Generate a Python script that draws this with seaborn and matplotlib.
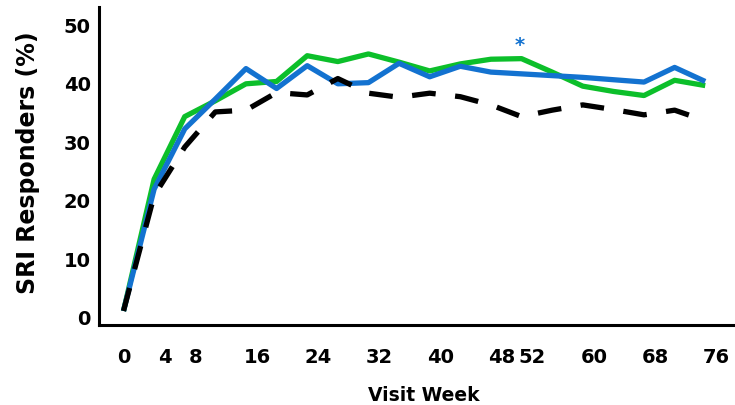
import pandas as pd
import seaborn as sns
import matplotlib.pyplot as plt
from matplotlib.transforms import ScaledTranslation

# Visit weeks and SRI responder rates (%)
weeks = [0, 4, 8, 12, 16, 20, 24, 28, 32, 36, 40, 44, 48, 52, 56, 60, 64, 68, 72, 76]
arm_green = [1.0, 23.5, 34.2, 36.9, 39.8, 40.2, 44.6, 43.6, 44.9, 43.5, 42.0, 43.2, 44.0, 44.1,
             41.8, 39.4, 38.5, 37.8, 40.4, 39.5]
arm_blue = [1.0, 21.8, 32.1, 37.2, 42.4, 39.0, 42.9, 39.8, 40.0, 43.3, 41.0, 42.8, 41.8, 41.5,
            41.2, 40.9, 40.5, 40.1, 42.6, 40.2]
placebo = [1.0, 20.7, 29.0, 35.0, 35.3, 38.3, 37.9, 40.7, 38.2, 37.5, 38.2, 37.6, 36.2, 34.2,
           35.3, 36.2, 35.4, 34.5, 35.3, 33.5]

arms = ["Arm A", "Arm B", "Placebo"]
x_ticks = [0, 4, 8, 16, 24, 32, 40, 48, 52, 60, 68, 76]
y_ticks = [0, 10, 20, 30, 40, 50]
star_week = 52

df = pd.DataFrame({
    "Week": weeks * 3,
    "Responders": arm_green + arm_blue + placebo,
    "Arm": [a for a in arms for _ in weeks],
})

sns.set_theme(style="white")
plt.rcParams["font.family"] = ["DejaVu Sans"]
plt.rcParams["lines.solid_capstyle"] = "butt"

colors = {"Arm A": "#0CBF2A", "Arm B": "#1372D0", "Placebo": "#000000"}
dashes = {"Arm A": "", "Arm B": "", "Placebo": (4.5, 3.7)}

fig, ax = plt.subplots(figsize=(7.35, 4.06), dpi=100)
fig.subplots_adjust(left=0.1347, right=0.997, bottom=0.197, top=0.980)

sns.lineplot(data=df, x="Week", y="Responders", hue="Arm", style="Arm",
             hue_order=arms, style_order=arms, palette=colors, dashes=dashes,
             linewidth=3.8, legend=False, ax=ax)

# significance marker at week 52
ax.text(star_week - 0.3, 45.6, "*", color="#1372D0", fontsize=14, fontweight="bold",
        ha="center", va="baseline")

ax.set_xlim(-3.2, 79.6)
ax.set_ylim(-1.4, 52.9)
ax.set_xticks(x_ticks)
ax.set_xticklabels([str(w) for w in x_ticks], fontsize=14, fontweight="bold")
ax.set_yticks(y_ticks)
ax.set_yticklabels([str(v) for v in y_ticks], fontsize=14, fontweight="bold")
ax.tick_params(axis="x", length=0, pad=16, colors="black")
ax.tick_params(axis="y", length=0, pad=6, colors="black")

# labels in the source sit a little right of their weeks
shift = ScaledTranslation(0.11, 0, fig.dpi_scale_trans)
for lbl, w in zip(ax.get_xticklabels(), x_ticks):
    if w > 0:
        lbl.set_transform(lbl.get_transform() + shift)

ax.set_xlabel("Visit Week", fontsize=13.5, fontweight="bold", color="black")
ax.set_ylabel("SRI Responders (%)", fontsize=17, fontweight="bold", color="black")
ax.xaxis.set_label_coords(0.513, -0.189)
ax.yaxis.set_label_coords(-0.093, 0.513)

sns.despine(ax=ax)
for side in ["left", "bottom"]:
    ax.spines[side].set_color("black")
    ax.spines[side].set_linewidth(2.2)

fig.savefig("out.png", dpi=100)
